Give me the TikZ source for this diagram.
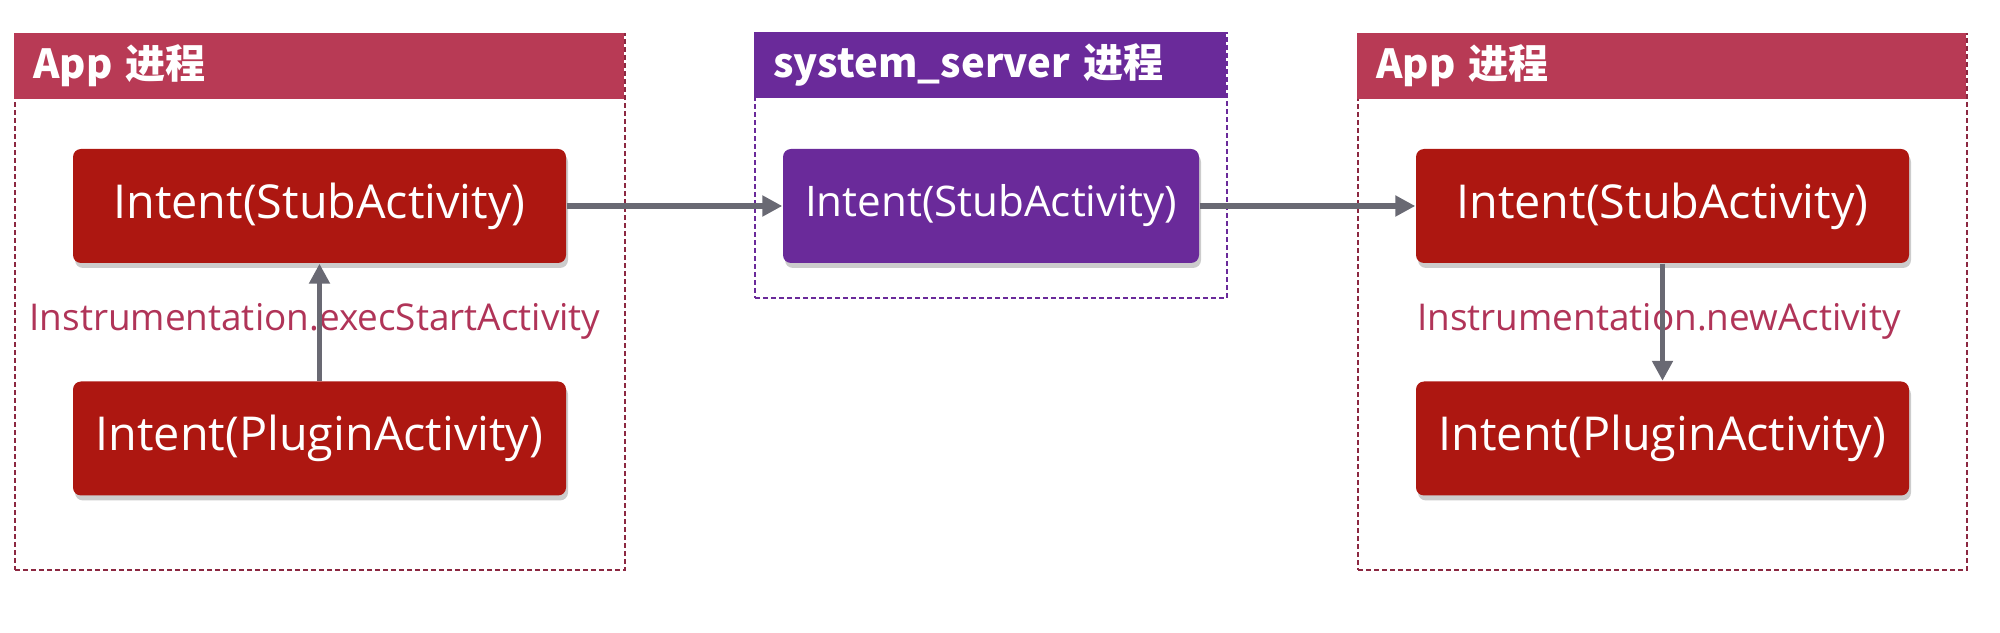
\documentclass[tikz,border=0pt]{standalone}
\usepackage{fontspec}
\setmainfont{Open Sans}
\newfontfamily\cjk{Noto Sans CJK SC}
\usetikzlibrary{arrows.meta,shadows}
\definecolor{headred}{RGB}{184,58,85}
\definecolor{boxred}{RGB}{173,23,17}
\definecolor{procpurple}{RGB}{106,42,154}
\definecolor{framered}{RGB}{140,40,65}
\definecolor{arrowgray}{RGB}{105,105,115}
\definecolor{labelred}{RGB}{176,52,88}
\begin{document}
\begin{tikzpicture}[
    procframe/.style={draw=#1, dashed, dash pattern=on 0.05cm off 0.03cm, line width=0.8pt, inner sep=0pt},
    prochead/.style={fill=#1, anchor=north west, minimum height=0.655cm, inner sep=0pt, text=white, font=\cjk\bfseries\fontsize{11.4pt}{14pt}\selectfont},
    intentbox/.style={fill=#1, rounded corners=0.08cm, minimum width=4.93cm, minimum height=1.14cm, inner sep=0pt, text=white,
        font=\fontsize{13.3pt}{15pt}\selectfont, drop shadow={shadow xshift=0.02cm, shadow yshift=-0.05cm, opacity=0.2, fill=black}},
    calllabel/.style={text=labelred, font=\fontsize{10.5pt}{12pt}\selectfont},
    flow/.style={draw=arrowgray, line width=1.6pt, -{Triangle[length=0.2cm, width=0.2cm]}}
]
    \useasboundingbox (0,0) rectangle (20,6.32);

    % --- 左侧 App 进程 ---
    \node[procframe=framered, minimum width=6.1cm, minimum height=5.36cm] (appL) at (3.2,3.3) {};
    \node[prochead=headred, minimum width=6.1cm, text width=5.72cm] (appLhead) at (appL.north west) {App 进程};
    \node[intentbox=boxred] (stubL) at (3.195,4.26) {Intent(StubActivity)};
    \node[intentbox=boxred] (pluginL) at (3.195,1.935) {Intent(PluginActivity)};
    \node[calllabel] (execL) at (3.15,3.11) {Instrumentation.execStartActivity};

    % --- 中间 system_server 进程 ---
    \node[procframe=procpurple, minimum width=4.72cm, minimum height=2.65cm] (sys) at (9.91,4.665) {};
    \node[prochead=procpurple, minimum width=4.72cm, text width=4.34cm] (syshead) at (sys.north west) {system\_server 进程};
    \node[intentbox=procpurple, minimum width=4.16cm, font=\fontsize{12pt}{14pt}\selectfont] (stubS) at (9.91,4.26) {Intent(StubActivity)};

    % --- 右侧 App 进程 ---
    \node[procframe=framered, minimum width=6.09cm, minimum height=5.36cm] (appR) at (16.625,3.3) {};
    \node[prochead=headred, minimum width=6.09cm, text width=5.71cm] (appRhead) at (appR.north west) {App 进程};
    \node[intentbox=boxred] (stubR) at (16.625,4.26) {Intent(StubActivity)};
    \node[intentbox=boxred] (pluginR) at (16.625,1.935) {Intent(PluginActivity)};
    \node[calllabel] (newR) at (16.59,3.11) {Instrumentation.newActivity};

    % 箭头 (画在文字上面)
    \draw[flow] (pluginL) -- (stubL);
    \draw[flow] (stubL) -- (stubS);
    \draw[flow] (stubS) -- (stubR);
    \draw[flow] (stubR) -- (pluginR);

\end{tikzpicture}
\end{document}
